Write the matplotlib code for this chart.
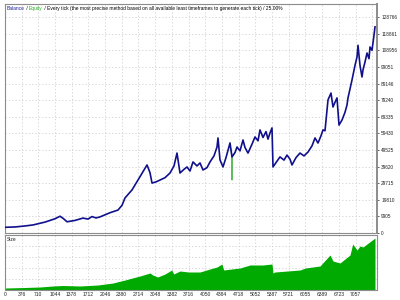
import numpy as np
import matplotlib
matplotlib.use("Agg")
import matplotlib.pyplot as plt

# Balance curve (trade number, balance)
bal_trade = [46, 246, 446, 606, 846, 1046, 1146, 1206, 1286, 1446, 1606, 1706, 1786, 1866, 1946,
             2146, 2306, 2386, 2446, 2586, 2746, 2886, 2946, 2986, 3066, 3146, 3246, 3346, 3426,
             3486, 3546, 3626, 3686, 3746, 3806, 3886, 3946, 4006, 4086, 4146, 4226, 4286, 4306,
             4346, 4406, 4466, 4546, 4586, 4646, 4686, 4746, 4806, 4846, 4906, 4986, 5046, 5106,
             5146, 5206, 5266, 5306, 5346, 5386, 5406, 5466, 5546, 5626, 5686, 5746, 5786, 5866,
             5946, 6026, 6106, 6186, 6246, 6306, 6366, 6406, 6446, 6506, 6566, 6606, 6646, 6686,
             6726, 6786, 6846, 6886, 6906, 6986, 7046, 7086, 7106, 7146, 7186, 7206, 7246, 7286,
             7326, 7346, 7386, 7426, 7446]
bal_value = [3400, 3600, 4200, 4800, 6500, 8500, 10000, 8800, 6700, 7500, 8900, 8300, 9800, 9000, 9600,
             12100, 13700, 16500, 20900, 25700, 33600, 40600, 36000, 29800, 30500, 31600, 33000, 35800, 40000,
             47700, 35800, 38000, 39400, 37000, 42400, 40000, 41800, 37600, 39000, 42400, 46000, 51300, 56700,
             43600, 39400, 45000, 53700, 45400, 48000, 51300, 49000, 55500, 51000, 47700, 53000, 57300, 55000,
             61500, 57000, 60500, 56000, 59700, 62700, 39400, 42000, 45400, 43500, 46500, 44000, 40600, 45000,
             47700, 46000, 48300, 52000, 56700, 53700, 58000, 61500, 61000, 79400, 83500, 75200, 78000, 80600,
             64400, 67400, 72000, 76400, 80600, 91300, 100000, 105000, 112000, 100000, 93100, 97300, 102000, 107400,
             104000, 111000, 109000, 118000, 123000]

# Equity deviation (floating drawdown spike)
eq_trade = [4546, 4580, 4586, 4592, 4646]
eq_value = [53700, 46000, 31600, 45400, 48000]

# Lot size panel
size_trade = [46, 446, 746, 1006, 1206, 1546, 1906, 2206, 2446, 2746, 2946, 3000, 3100, 3246, 3382,
              3420, 3546, 3716, 3946, 4146, 4286, 4384, 4420, 4746, 4946, 5206, 5386, 5406, 5446,
              5946, 6055, 6346, 6546, 6606, 6746, 6946, 7000, 7086, 7146, 7206, 7446]
size_value = [0.2, 0.25, 0.3, 0.4, 0.45, 0.4, 0.5, 0.7, 1.0, 1.4, 1.7, 1.5, 1.3, 1.6, 2.0,
              1.6, 1.9, 1.8, 1.8, 2.1, 2.3, 2.6, 2.0, 2.2, 2.5, 2.5, 2.6, 1.7, 1.8,
              2.0, 2.2, 2.4, 3.5, 2.9, 2.7, 3.5, 4.6, 4.0, 4.4, 4.3, 5.2]

x_ticks = [46, 376, 710, 1044, 1378, 1712, 2046, 2380, 2714, 3048, 3382, 3716, 4050, 4384,
           4718, 5052, 5387, 5721, 6055, 6389, 6723, 7057]
x_labels = ["0"] + [str(t) for t in x_ticks[1:]]
y_step = 9905
y_ticks = [y_step * k for k in range(14)]
y_labels = ["0", "9905", "19810", "29715", "39620", "49525", "59430", "69335", "79240",
            "89146", "99051", "108956", "118861", "128766"]

FONT = "Liberation Sans"
GRID = dict(color="#cfcfcf", linestyle=(0, (1.5, 2.5)), linewidth=0.6)
FRAME = "#8c8c8c"

fig = plt.figure(figsize=(4, 3), dpi=100)
fig.patch.set_facecolor("white")

ax = fig.add_axes([5 / 400, 1 - 233 / 300, 372 / 400, 229 / 300])
ax2 = fig.add_axes([5 / 400, 1 - 290 / 300, 372 / 400, 55 / 300])

xmin, xmax = 46, 7486

# main panel
ax.plot(eq_trade, eq_value, color="#40b040", linewidth=0.6, zorder=2)
ax.plot(bal_trade, bal_value, color="#10108c", linewidth=1.2, zorder=3)
ax.set_xlim(xmin, xmax)
ax.set_ylim(0, y_step * 229 / 16.6)
ax.set_xticks(x_ticks + [7391])
ax.set_xticklabels([])
ax.set_yticks(y_ticks)
ax.set_yticklabels(y_labels, fontsize=3.4, family=FONT)
ax.yaxis.tick_right()
ax.tick_params(axis="y", length=1.5, width=0.5, pad=1.5, colors="#222222")
ax.tick_params(axis="x", length=0)
ax.grid(True, **GRID)
for s in ax.spines.values():
    s.set_color(FRAME)
    s.set_linewidth(0.8)
ax.spines["right"].set_linewidth(1.4)

fs = 3.5
t1 = ax.text(0.005, 0.992, "Balance", transform=ax.transAxes, fontsize=fs, family=FONT,
             color="#1c1c9c", va="top", ha="left")
t2 = ax.annotate(" / ", xy=(1, 0), xycoords=t1, va="bottom", ha="left", fontsize=fs,
                 family=FONT, color="black")
t3 = ax.annotate("Equity", xy=(1, 0), xycoords=t2, va="bottom", ha="left", fontsize=fs,
                 family=FONT, color="#20b020")
ax.annotate(" / Every tick (the most precise method based on all available least timeframes "
            "to generate each tick) / 25.00%", xy=(1, 0), xycoords=t3, va="bottom", ha="left",
            fontsize=fs, family=FONT, color="black")

# size panel
ax2.fill_between(size_trade, 0, size_value, color="#00aa00", linewidth=0, zorder=2)
ax2.set_xlim(xmin, xmax)
ax2.set_ylim(0, 5.5)
ax2.set_xticks(x_ticks)
ax2.set_xticklabels(x_labels, fontsize=3.6, family=FONT, color="#222222")
ax2.set_yticks([1.1, 2.2, 3.3, 4.4])
ax2.set_yticklabels([])
ax2.tick_params(axis="x", length=0, pad=1.5)
ax2.tick_params(axis="y", length=0)
ax2.grid(True, **GRID)
for s in ax2.spines.values():
    s.set_color(FRAME)
    s.set_linewidth(0.8)
ax2.text(0.005, 0.96, "Size", transform=ax2.transAxes, fontsize=fs, family=FONT,
         color="#222222", va="top", ha="left")

fig.savefig("out.png", dpi=100, facecolor="white")
